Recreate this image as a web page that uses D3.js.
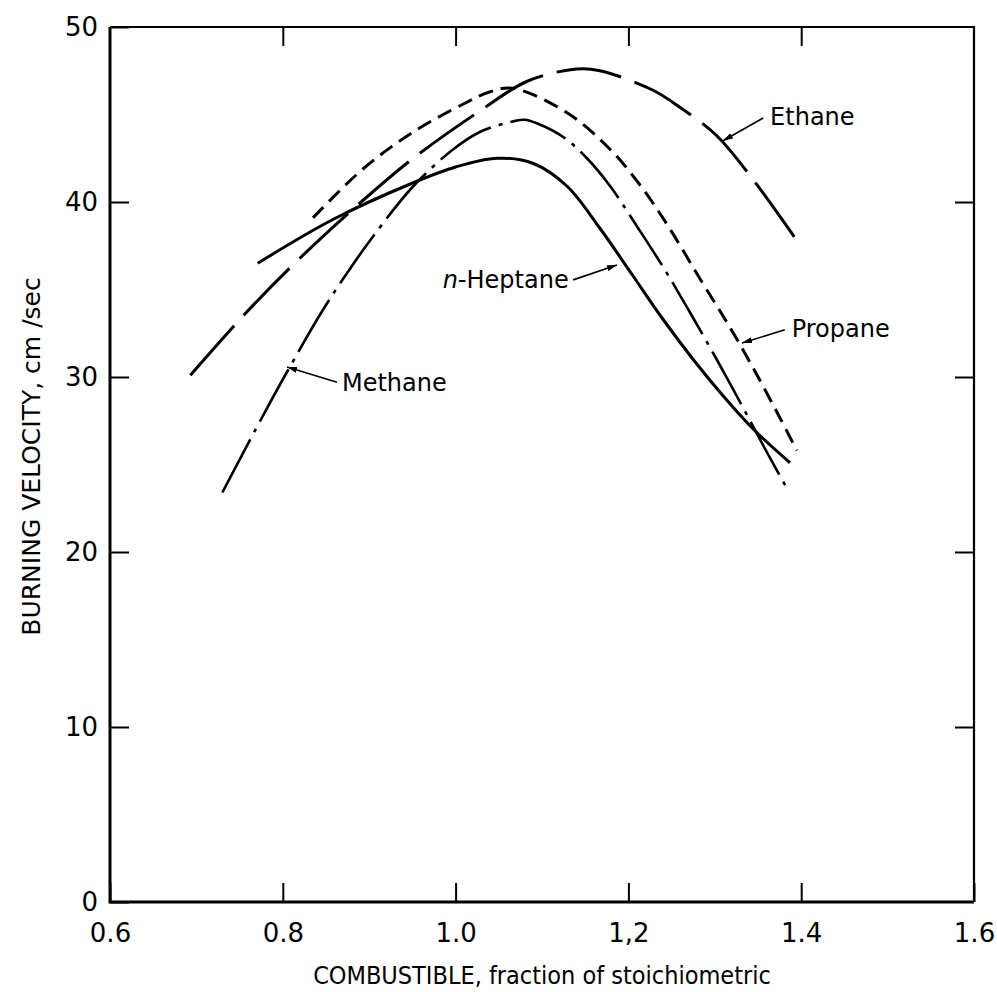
<!DOCTYPE html>
<html>
<head>
<meta charset="utf-8">
<script src="https://cdn.jsdelivr.net/npm/d3@7/dist/d3.min.js"></script>
<style>
  html, body { margin: 0; padding: 0; background: #fff; }
  svg { display: block; }
  .tick text { font-family: "DejaVu Sans", sans-serif; font-size: 26px; fill: #000; }
  .tick line { stroke: #000; stroke-width: 2px; }
</style>
</head>
<body>
<svg id="chart" width="997" height="992"></svg>
<script>
// Burning velocity of fuel–air flames vs. fuel fraction of stoichiometric
const xTicks = [0.6, 0.8, 1.0, 1.2, 1.4, 1.6];
const xTickLabels = ["0.6", "0.8", "1.0", "1,2", "1.4", "1.6"];
const yTicks = [0, 10, 20, 30, 40, 50];

const methaneX = [0.730, 0.775, 0.805, 0.846, 0.878, 0.904, 0.951, 0.997, 1.028, 1.066, 1.080, 1.094, 1.125, 1.152, 1.179, 1.210, 1.240, 1.270, 1.300, 1.330, 1.357, 1.385];
const methaneY = [23.4, 27.6, 30.3, 33.8, 36.2, 38.0, 40.9, 43.0, 44.0, 44.6, 44.7, 44.5, 43.7, 42.5, 40.9, 38.6, 36.3, 33.8, 31.2, 28.5, 26.0, 23.5];

const ethaneX = [0.693, 0.758, 0.820, 0.893, 0.951, 1.028, 1.083, 1.140, 1.167, 1.228, 1.260, 1.302, 1.344, 1.395];
const ethaneY = [30.1, 33.7, 36.8, 40.1, 42.5, 45.2, 46.9, 47.6, 47.5, 46.4, 45.4, 43.8, 41.3, 37.8];

const propaneX = [0.835, 0.893, 0.951, 1.009, 1.040, 1.066, 1.129, 1.179, 1.213, 1.245, 1.283, 1.318, 1.349, 1.375, 1.395];
const propaneY = [39.1, 41.9, 44.0, 45.6, 46.3, 46.5, 45.1, 43.0, 41.0, 38.7, 35.6, 32.8, 30.1, 27.7, 25.8];

const heptaneX = [0.771, 0.858, 0.951, 1.000, 1.048, 1.090, 1.129, 1.167, 1.205, 1.240, 1.275, 1.310, 1.345, 1.387];
const heptaneY = [36.5, 39.0, 41.1, 42.0, 42.5, 42.2, 40.9, 38.5, 35.8, 33.3, 31.0, 28.9, 27.0, 25.1];

// Curve labels: text anchor, and leader line from (fromX, fromY) to the curve at (toX, toY)
const labelNames = ["Ethane", "Propane", "Heptane", "Methane"];
const labelX = [1.364, 1.389, 0.985, 0.8685];
const labelY = [44.4, 32.3, 35.1, 29.2];
const leaderFromX = [1.356, 1.381, 1.136, 0.8627];
const leaderFromY = [44.8, 32.7, 35.55, 29.7];
const leaderToX = [1.3095, 1.3315, 1.1868, 0.8049];
const leaderToY = [43.5, 31.94, 36.4, 30.57];

const svg = d3.select("#chart");
const plotLeft = 110, plotRight = 974, plotTop = 27, plotBottom = 902;

const x = d3.scaleLinear().domain([0.6, 1.6]).range([plotLeft, plotRight]);
const y = d3.scaleLinear().domain([0, 50]).range([plotBottom, plotTop]);

// Axes with inward ticks on all four sides
const tickLen = 19;
svg.append("g").attr("transform", `translate(0,${plotBottom})`)
  .call(d3.axisBottom(x).tickValues(xTicks).tickSize(-tickLen).tickSizeOuter(0).tickPadding(22)
    .tickFormat((d, i) => xTickLabels[i]))
  .call(g => g.select(".domain").remove());
svg.append("g").attr("transform", `translate(0,${plotTop})`)
  .call(d3.axisTop(x).tickValues(xTicks.slice(1, -1)).tickSize(-tickLen).tickFormat(""))
  .call(g => g.select(".domain").remove());
svg.append("g").attr("transform", `translate(${plotLeft},0)`)
  .call(d3.axisLeft(y).tickValues(yTicks).tickSize(-tickLen).tickSizeOuter(0).tickPadding(12))
  .call(g => g.select(".domain").remove());
svg.append("g").attr("transform", `translate(${plotRight},0)`)
  .call(d3.axisRight(y).tickValues(yTicks.slice(1, -1)).tickSize(-tickLen).tickFormat(""))
  .call(g => g.select(".domain").remove());

// Frame: heavier left and bottom edges
svg.append("path")
  .attr("d", `M${plotLeft},${plotTop}H${plotRight}V${plotBottom}`)
  .attr("fill", "none").attr("stroke", "#000").attr("stroke-width", 2.2);
svg.append("path")
  .attr("d", `M${plotLeft},${plotTop}V${plotBottom}H${plotRight}`)
  .attr("fill", "none").attr("stroke", "#000").attr("stroke-width", 3);

// Axis titles
svg.append("text")
  .attr("x", (plotLeft + plotRight) / 2).attr("y", 984)
  .attr("text-anchor", "middle")
  .style("font-family", "'DejaVu Sans Condensed', 'DejaVu Sans', sans-serif")
  .style("font-stretch", "condensed")
  .style("font-size", "25px")
  .text("COMBUSTIBLE, fraction of stoichiometric");
svg.append("text")
  .attr("transform", `translate(40,${(plotTop + plotBottom) / 2 - 8}) rotate(-90)`)
  .attr("text-anchor", "middle")
  .style("font-family", "'DejaVu Sans', sans-serif")
  .style("font-size", "25px")
  .text("BURNING VELOCITY, cm /sec");

// Curves
const line = d3.line().x(d => x(d[0])).y(d => y(d[1])).curve(d3.curveCatmullRom.alpha(0.5));
const series = [
  { xs: ethaneX, ys: ethaneY, dash: "66,14", width: 3 },
  { xs: propaneX, ys: propaneY, dash: "15,8", width: 3 },
  { xs: methaneX, ys: methaneY, dash: "60,8,4,8", width: 2.6 },
  { xs: heptaneX, ys: heptaneY, dash: null, width: 3 }
];
series.forEach(s => {
  svg.append("path")
    .datum(s.xs.map((v, i) => [v, s.ys[i]]))
    .attr("d", line)
    .attr("fill", "none")
    .attr("stroke", "#000")
    .attr("stroke-width", s.width)
    .attr("stroke-dasharray", s.dash);
});

// Arrowhead for the leader lines
svg.append("defs").append("marker")
  .attr("id", "arrow")
  .attr("viewBox", "0 0 10 6")
  .attr("refX", 10).attr("refY", 3)
  .attr("markerWidth", 10).attr("markerHeight", 6)
  .attr("markerUnits", "userSpaceOnUse")
  .attr("orient", "auto")
  .append("path").attr("d", "M0,0L10,3L0,6Z").attr("fill", "#000");

labelNames.forEach((name, i) => {
  svg.append("line")
    .attr("x1", x(leaderFromX[i])).attr("y1", y(leaderFromY[i]))
    .attr("x2", x(leaderToX[i])).attr("y2", y(leaderToY[i]))
    .attr("stroke", "#000").attr("stroke-width", 1.6)
    .attr("marker-end", "url(#arrow)");
  const t = svg.append("text")
    .attr("x", x(labelX[i])).attr("y", y(labelY[i]))
    .style("font-family", "'DejaVu Sans', sans-serif")
    .style("font-size", "24px");
  if (name === "Heptane") {
    t.append("tspan").style("font-style", "italic").text("n");
    t.append("tspan").text("-Heptane");
  } else {
    t.text(name);
  }
});
</script>
</body>
</html>
